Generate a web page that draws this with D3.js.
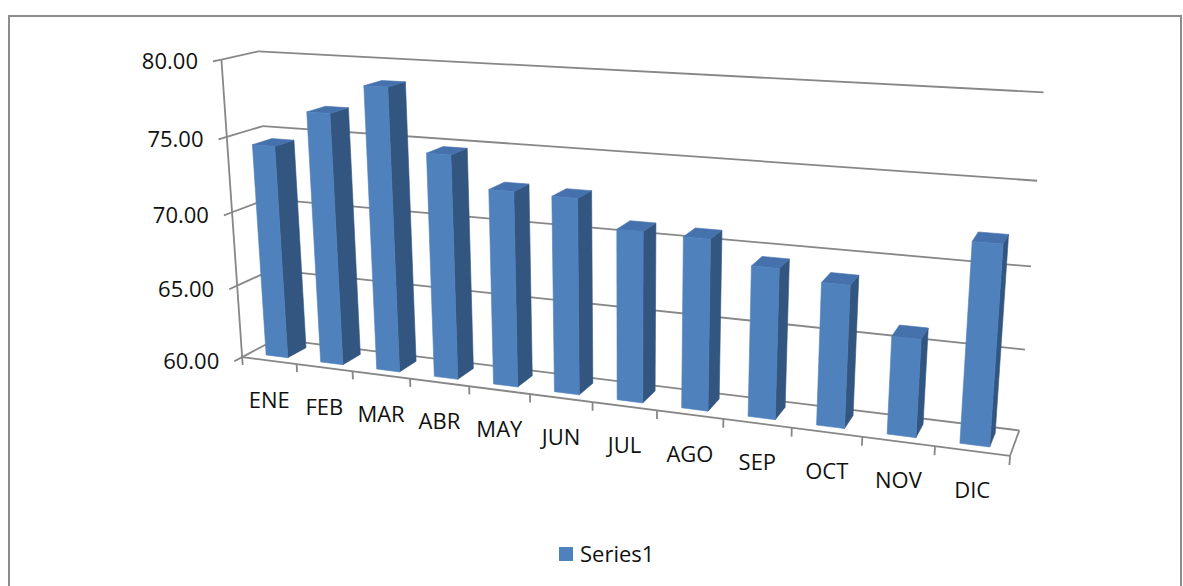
<!DOCTYPE html>
<html>
<head>
<meta charset="utf-8">
<script src="https://cdn.jsdelivr.net/npm/d3@7"></script>
<style>
  html, body { margin: 0; background: #fff; }
  svg { display: block; }
  text { font-family: "Open Sans", sans-serif; fill: #111; }
</style>
</head>
<body>
<svg id="chart" width="1183" height="586"></svg>
<script>
// ---- data ----
const months = ["ENE", "FEB", "MAR", "ABR", "MAY", "JUN", "JUL", "AGO", "SEP", "OCT", "NOV", "DIC"];
const values = [74.4, 76.8, 78.7, 74.7, 72.7, 72.6, 70.9, 70.8, 69.4, 68.8, 66.0, 72.0];
const yTicks = [60, 65, 70, 75, 80];
const seriesName = "Series1";

// ---- world scales: x in category units, h in [0,1], z (depth) in [0,1] ----
const xBand = d3.scaleBand().domain(months).range([0, 12]).paddingInner(0.6).paddingOuter(0.3);
const zBand = d3.scaleBand().domain([seriesName]).range([0, 1]).paddingOuter(0.41);
const yScale = d3.scaleLinear().domain([60, 80]).range([0, 1]);
const fmt = d3.format(".2f");

// ---- camera: fitted so the plot box corners land where the frame is laid out ----
const viewAnchors = [
  [[0, 0, 0], [242, 357]], [[0, 1, 0], [222, 60]], [[0, 1, 1], [258, 51]],
  [[12, 1, 1], [1043, 92]], [[12, 0, 1], [1018, 431]], [[12, 0, 0], [1009, 456]],
  [[0, .75, 0], [226, 137]], [[0, .75, 1], [263, 127]], [[0, .5, 0], [232, 212]], [[0, .25, 0], [237, 285]],
  [[12, .75, 1], [1037, 181]], [[12, .5, 1], [1032, 266]], [[12, .25, 1], [1026, 349]],
  [[1, 0, 0], [297, 364]], [[2, 0, 0], [353, 371]], [[3, 0, 0], [410, 379]], [[4, 0, 0], [468, 386]],
  [[5, 0, 0], [530, 394]], [[6, 0, 0], [593, 402]], [[7, 0, 0], [657, 411]], [[8, 0, 0], [724, 419]],
  [[9, 0, 0], [792, 428]], [[10, 0, 0], [863, 437]], [[11, 0, 0], [935, 446]]
];

const NC = [600, 250, 400]; // normalisation centre / scale for the fit
function solve(M, b) {
  const n = b.length;
  const A = M.map((r, i) => r.concat([b[i]]));
  for (let c = 0; c < n; c++) {
    let p = c;
    for (let r = c + 1; r < n; r++) if (Math.abs(A[r][c]) > Math.abs(A[p][c])) p = r;
    [A[c], A[p]] = [A[p], A[c]];
    for (let r = 0; r < n; r++) {
      if (r === c) continue;
      const f = A[r][c] / A[c][c];
      for (let k = c; k <= n; k++) A[r][k] -= f * A[c][k];
    }
  }
  return A.map((r, i) => r[n] / r[i]);
}
function fitCamera(anchors) {
  const rows = [], rhs = [];
  anchors.forEach(([w, s]) => {
    const X = w[0] / 12, Y = w[1], Z = w[2];
    const u = (s[0] - NC[0]) / NC[2], v = (s[1] - NC[1]) / NC[2];
    rows.push([X, Y, Z, 1, 0, 0, 0, 0, -u * X, -u * Y, -u * Z]); rhs.push(u);
    rows.push([0, 0, 0, 0, X, Y, Z, 1, -v * X, -v * Y, -v * Z]); rhs.push(v);
  });
  const n = 11;
  const M = d3.range(n).map(i => d3.range(n).map(j => d3.sum(rows, r => r[i] * r[j])));
  const b = d3.range(n).map(i => d3.sum(rows, (r, k) => r[i] * rhs[k]));
  return solve(M, b);
}
const P = fitCamera(viewAnchors);
function project([x, h, z]) {
  const X = x / 12, Y = h, Z = z;
  const w = P[8] * X + P[9] * Y + P[10] * Z + 1;
  const u = (P[0] * X + P[1] * Y + P[2] * Z + P[3]) / w;
  const v = (P[4] * X + P[5] * Y + P[6] * Z + P[7]) / w;
  return [u * NC[2] + NC[0], v * NC[2] + NC[1]];
}

const svg = d3.select("#chart");
const line = d3.line();
const gridColor = "#878787";

// chart area border
svg.append("rect").attr("x", 9).attr("y", 16).attr("width", 1172).attr("height", 620)
  .attr("fill", "none").attr("stroke", "#8c8c8c").attr("stroke-width", 2);

const grid = svg.append("g").attr("fill", "none").attr("stroke", gridColor).attr("stroke-width", 1.8);
const seg = (a, b) => grid.append("path").attr("d", line([project(a), project(b)]));

// back wall and side wall gridlines, value ticks
yTicks.forEach(t => {
  const h = yScale(t);
  seg([0, h, 1], [12, h, 1]);
  seg([0, h, 0], [0, h, 1]);
  seg([0, h, 0], [0, h, -0.22]);
});
// value axis, floor edges, category ticks
seg([0, 0, 0], [0, 1, 0]);
seg([0, 0, 0], [12, 0, 0]);
seg([12, 0, 0], [12, 0, 1]);
d3.range(0, 13).forEach(k => seg([k, 0, 0], [k, -0.028, 0]));

// value labels
const axisLabels = svg.append("g").attr("font-size", 22).attr("text-anchor", "end");
yTicks.forEach(t => {
  const p = project([0, yScale(t), -0.22]);
  axisLabels.append("text").attr("x", p[0] - 15).attr("y", p[1] + 8).text(fmt(t));
});

// category labels
const catLabels = svg.append("g").attr("font-size", 22).attr("text-anchor", "middle");
months.forEach(m => {
  const p = project([xBand(m) + xBand.bandwidth() / 2, 0, 0]);
  catLabels.append("text").attr("x", p[0]).attr("y", p[1] + 47).text(m);
});

// 3D columns
const colors = { front: "#4f81bd", side: "#32567f", top: "#4571ad", back: "#32567f" };
function area(pts) {
  let s = 0;
  for (let i = 0; i < pts.length; i++) {
    const a = pts[i], b = pts[(i + 1) % pts.length];
    s += a[0] * b[1] - b[0] * a[1];
  }
  return s / 2;
}
const bars = svg.append("g");
months.forEach((m, i) => {
  const x0 = xBand(m), x1 = x0 + xBand.bandwidth();
  const z0 = zBand(seriesName), z1 = z0 + zBand.bandwidth();
  const y0 = yScale(60), y1 = yScale(values[i]);
  const faces = [
    { c: colors.back, v: [[x1, y0, z1], [x0, y0, z1], [x0, y1, z1], [x1, y1, z1]] },
    { c: colors.side, v: [[x0, y0, z1], [x0, y0, z0], [x0, y1, z0], [x0, y1, z1]] },
    { c: colors.side, v: [[x1, y0, z0], [x1, y0, z1], [x1, y1, z1], [x1, y1, z0]] },
    { c: colors.top, v: [[x0, y1, z0], [x1, y1, z0], [x1, y1, z1], [x0, y1, z1]] },
    { c: colors.front, v: [[x0, y0, z0], [x1, y0, z0], [x1, y1, z0], [x0, y1, z0]] }
  ];
  const g = bars.append("g").attr("class", "bar").datum({ month: m, value: values[i] });
  faces.forEach(f => {
    const pts = f.v.map(project);
    if (area(pts) >= 0) return;
    g.append("path").attr("d", line(pts) + "Z").attr("fill", f.c)
      .attr("stroke", f.c).attr("stroke-width", 0.6).attr("stroke-linejoin", "round");
  });
});

// legend
const legend = svg.append("g").attr("transform", "translate(559,547)");
legend.append("rect").attr("width", 14).attr("height", 14).attr("fill", colors.front);
legend.append("text").attr("x", 21).attr("y", 15).attr("font-size", 22).text(seriesName);
</script>
</body>
</html>
